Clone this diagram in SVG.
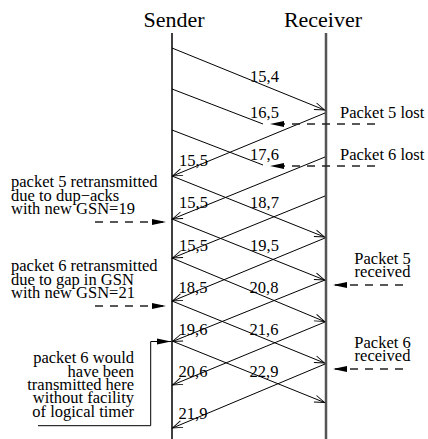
<svg xmlns="http://www.w3.org/2000/svg" width="428" height="439" viewBox="0 0 428 439">
  <style>
    text { font-family: "Liberation Serif", "Times New Roman", serif; fill: #000; }
    .hdr { font-size: 22px; text-anchor: middle; }
    .lbl { font-size: 16.5px; }
    .note { font-size: 16.5px; }
    .end { text-anchor: end; }
    .mid { text-anchor: middle; }
    .msg { stroke: #000; stroke-width: 1; fill: none; marker-end: url(#open); }
    .lost { stroke: #000; stroke-width: 1; fill: none; }
    .evt { stroke: #222; stroke-width: 1.3; stroke-dasharray: 8 7; fill: none; marker-end: url(#solid); }
    .lead { stroke: #000; stroke-width: 1; fill: none; marker-end: url(#solid); }
  </style>
  <defs>
    <marker id="open" markerUnits="userSpaceOnUse" markerWidth="14" markerHeight="10" refX="11" refY="5" orient="auto">
      <path d="M1,1.5 L11,5 L1,8.5" fill="none" stroke="#000" stroke-width="0.9"/>
    </marker>
    <marker id="solid" markerUnits="userSpaceOnUse" markerWidth="16" markerHeight="8" refX="14" refY="4" orient="auto">
      <path d="M0,1 L14,4 L0,7 z" fill="#000"/>
    </marker>
  </defs>

  <!-- lifelines -->
  <g id="sender">
    <text class="hdr" x="174" y="26.5">Sender</text>
    <line x1="172" y1="33" x2="172" y2="439" stroke="#000" stroke-width="1.5"/>
  </g>
  <g id="receiver">
    <text class="hdr" x="323" y="26.5">Receiver</text>
    <line x1="326" y1="33" x2="326" y2="439" stroke="#555" stroke-width="2.5"/>
  </g>

  <!-- packets and acknowledgements -->
  <g id="connectors">
    <!-- data packets, sender to receiver -->
    <line class="msg" x1="172" y1="48" x2="324.5" y2="110"/>
    <line class="lost" x1="172" y1="89" x2="263" y2="124"/>
    <line class="lost" x1="172" y1="130" x2="263" y2="165"/>
    <line class="msg" x1="172" y1="176" x2="324.5" y2="237"/>
    <line class="msg" x1="172" y1="219" x2="324.5" y2="280"/>
    <line class="msg" x1="172" y1="258" x2="324.5" y2="321.5"/>
    <line class="msg" x1="172" y1="301" x2="324.5" y2="363"/>
    <line class="msg" x1="172" y1="341" x2="324.5" y2="402.5"/>
    <!-- acknowledgements, receiver to sender -->
    <line class="msg" x1="325" y1="113" x2="172.5" y2="176"/>
    <line class="msg" x1="325" y1="157" x2="172.5" y2="219"/>
    <line class="msg" x1="325" y1="196" x2="172.5" y2="258"/>
    <line class="msg" x1="325" y1="238" x2="172.5" y2="301"/>
    <line class="msg" x1="325" y1="280" x2="172.5" y2="341.5"/>
    <line class="msg" x1="325" y1="322" x2="172.5" y2="385"/>
    <line class="msg" x1="325" y1="364" x2="172.5" y2="428"/>

    <!-- event pointers -->
    <line class="evt" x1="375" y1="124" x2="270" y2="124"/>
    <line class="evt" x1="375" y1="166" x2="270" y2="166"/>
    <line class="evt" x1="403" y1="285" x2="333" y2="285"/>
    <line class="evt" x1="403" y1="369" x2="333" y2="369"/>
    <line class="evt" x1="95" y1="222" x2="166" y2="222"/>
    <line class="evt" x1="95" y1="306" x2="166" y2="306"/>
    <polyline class="lead" points="38,425.7 150.7,425.7 150.7,341.5 171,341.5"/>

    <!-- sequence labels: data -->
    <text class="lbl" x="250" y="82">15,4</text>
    <text class="lbl" x="250" y="118">16,5</text>
    <text class="lbl" x="250" y="159.5">17,6</text>
    <text class="lbl" x="250" y="208">18,7</text>
    <text class="lbl" x="250" y="251">19,5</text>
    <text class="lbl" x="249.5" y="293">20,8</text>
    <text class="lbl" x="249.5" y="335">21,6</text>
    <text class="lbl" x="249.5" y="377">22,9</text>
    <!-- sequence labels: acks -->
    <text class="lbl" x="179" y="166">15,5</text>
    <text class="lbl" x="179" y="208">15,5</text>
    <text class="lbl" x="179" y="251">15,5</text>
    <text class="lbl" x="178.5" y="293">18,5</text>
    <text class="lbl" x="178.5" y="335">19,6</text>
    <text class="lbl" x="178.5" y="377">20,6</text>
    <text class="lbl" x="178.5" y="419">21,9</text>
  </g>

  <!-- receiver-side notes -->
  <g id="note-p5-lost">
    <text class="note" x="340" y="118">Packet 5 lost</text>
  </g>
  <g id="note-p6-lost">
    <text class="note" x="340" y="160">Packet 6 lost</text>
  </g>
  <g id="note-p5-received">
    <text class="note mid" x="382.5" y="264">Packet 5</text>
    <text class="note mid" x="382.5" y="277.3">received</text>
  </g>
  <g id="note-p6-received">
    <text class="note mid" x="382.5" y="347.5">Packet 6</text>
    <text class="note mid" x="382.5" y="361">received</text>
  </g>

  <!-- sender-side notes -->
  <g id="note-p5-retx">
    <text class="note" x="11" y="187.3">packet 5 retransmitted</text>
    <text class="note" x="11" y="200.6">due to dup−acks</text>
    <text class="note" x="11" y="213.9">with new GSN=19</text>
  </g>
  <g id="note-p6-retx">
    <text class="note" x="11" y="271.3">packet 6 retransmitted</text>
    <text class="note" x="11" y="284.6">due to gap in GSN</text>
    <text class="note" x="11" y="297.9">with new GSN=21</text>
  </g>
  <g id="note-timer">
    <text class="note end" x="134" y="363.3">packet 6 would</text>
    <text class="note end" x="134" y="376.6">have been</text>
    <text class="note end" x="134" y="389.9">transmitted here</text>
    <text class="note end" x="134" y="403.2">without facility</text>
    <text class="note end" x="134" y="416.5">of logical timer</text>
  </g>
</svg>
